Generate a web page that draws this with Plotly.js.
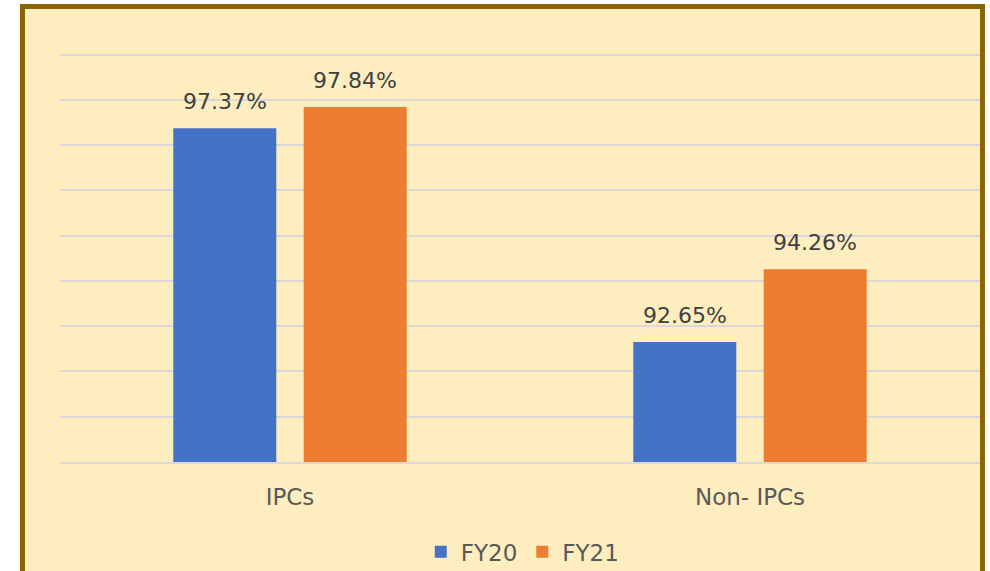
<!DOCTYPE html>
<html>
<head>
<meta charset="utf-8">
<script src="https://cdn.plot.ly/plotly-3.0.1.min.js"></script>
<style>html,body{margin:0;padding:0;background:#fff;}#chart{width:990px;height:571px;}</style>
</head>
<body>
<div id="chart"></div>
<script>
const categories = ["IPCs", "Non- IPCs"];
const seriesNames = ["FY20", "FY21"];
const fy20 = [97.37, 92.65];
const fy21 = [97.84, 94.26];
const colors = ["#4472C4", "#ED7D31"];
const fontFam = "DejaVu Sans, sans-serif";

const values = [fy20, fy21];
const traces = values.map((v, i) => ({
  type: "bar",
  name: seriesNames[i],
  x: categories,
  y: v,
  marker: {color: colors[i]},
  hoverinfo: "skip"
}));

const annotations = [];
values.forEach((v, i) => {
  v.forEach((val, j) => {
    annotations.push({
      x: categories[j], y: val, xref: "x", yref: "y",
      xshift: i === 0 ? -65.25 : 65.25, yshift: 12,
      yanchor: "bottom", showarrow: false,
      text: val.toFixed(2) + "%",
      font: {family: fontFam, size: 22, color: "#404040"}
    });
  });
});

const layout = {
  width: 990, height: 571,
  margin: {l: 60, r: 10, t: 50, b: 109, autoexpand: false},
  paper_bgcolor: "#ffffff",
  plot_bgcolor: "rgba(0,0,0,0)",
  barmode: "group",
  bargap: 0.433,
  bargroupgap: 0.21,
  font: {family: fontFam, color: "#595959"},
  xaxis: {
    showgrid: false, zeroline: false,
    showline: true, linecolor: "#D9D9D9", linewidth: 2,
    ticks: "", ticklabelstandoff: 13,
    tickfont: {family: fontFam, size: 23, color: "#595959"}
  },
  yaxis: {
    range: [90, 99.1], dtick: 1, tick0: 90,
    showgrid: true, gridcolor: "#D9D9D9", gridwidth: 2,
    showticklabels: false, zeroline: false, showline: false, ticks: ""
  },
  legend: {
    orientation: "h", x: 0.503, xanchor: "center", y: -0.218, yanchor: "middle",
    font: {family: fontFam, size: 23, color: "#595959"},
    bgcolor: "rgba(0,0,0,0)"
  },
  shapes: [{
    type: "rect", xref: "paper", yref: "paper", layer: "below",
    x0: -0.04076, x1: 1.00272, y0: -0.4, y1: 1.1056,
    fillcolor: "#FEEDBF",
    line: {color: "#8B6508", width: 5}
  }],
  annotations: annotations
};

Plotly.newPlot("chart", traces, layout, {displayModeBar: false, staticPlot: true});
</script>
</body>
</html>
